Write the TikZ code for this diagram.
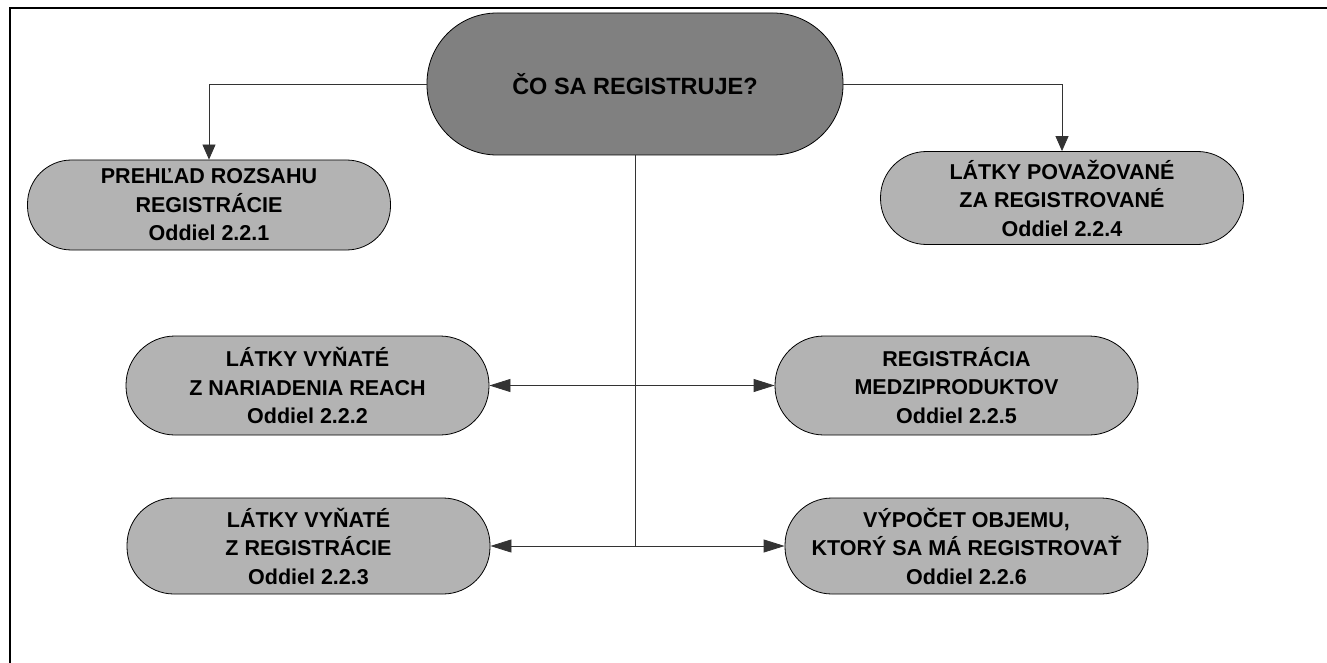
\documentclass[tikz,border=0pt]{standalone}
\usepackage{fontspec}
\setmainfont{Liberation Sans}
\usetikzlibrary{arrows.meta,positioning}

\definecolor{topgray}{HTML}{808080}
\definecolor{boxgray}{HTML}{B3B3B3}
\definecolor{linegray}{HTML}{333333}

\begin{document}
\begin{tikzpicture}[x=1pt, y=-1pt,
  box/.style={draw=black, line width=0.8pt, fill=boxgray, inner sep=0pt,
    minimum width=363pt, align=center,
    font=\fontsize{21.5}{28.5}\selectfont\bfseries},
  link/.style={draw=linegray, line width=0.8pt},
  tipv/.style={-{Triangle[length=15pt,width=13pt]}},
  tiph/.style={-{Triangle[length=21pt,width=13pt]}}]

\useasboundingbox (0,0) rectangle (1327,663);

% Frame
\draw[line width=2pt] (10,663) -- (10,8.5) -- (1327,8.5);

% Top node
\node[box, fill=topgray, minimum width=416pt, minimum height=142pt,
  rounded corners=70pt, font=\fontsize{23.5}{28}\selectfont\bfseries]
  (top) at (635,84) {ČO SA REGISTRUJE?};

% Upper row
\node[box, minimum height=90pt, rounded corners=44pt] (scope) at (209,205)
  {PREHĽAD ROZSAHU\\REGISTRÁCIE\\Oddiel 2.2.1};
\node[box, minimum height=93pt, rounded corners=46pt] (deemed) at (1062,198)
  {LÁTKY POVAŽOVANÉ\\ZA REGISTROVANÉ\\Oddiel 2.2.4};

% Middle row
\node[box, minimum height=99pt, rounded corners=49pt] (exreach) at (307.5,385.5)
  {LÁTKY VYŇATÉ\\Z NARIADENIA REACH\\Oddiel 2.2.2};
\node[box, minimum height=99pt, rounded corners=49pt] (interm) at (956.5,385.5)
  {REGISTRÁCIA\\MEDZIPRODUKTOV\\Oddiel 2.2.5};

% Lower row
\node[box, minimum height=96pt, rounded corners=47pt] (exreg) at (308.5,546)
  {LÁTKY VYŇATÉ\\Z REGISTRÁCIE\\Oddiel 2.2.3};
\node[box, minimum height=96pt, rounded corners=47pt] (volume) at (966.5,546)
  {VÝPOČET OBJEMU,\\KTORÝ SA MÁ REGISTROVAŤ\\Oddiel 2.2.6};

% Junctions on the spine
\coordinate (jmid) at (top.south |- exreach);
\coordinate (jlow) at (top.south |- exreg);

% Side branches
\draw[link, tipv] (top.west) -| (scope);
\draw[link, tipv] (top.east) -| (deemed);

% Spine and branches
\draw[link] (top.south) -- (jlow);
\draw[link, tiph] (jmid) -- (exreach);
\draw[link, tiph] (jmid) -- (interm);
\draw[link, tiph] (jlow) -- (exreg);
\draw[link, tiph] (jlow) -- (volume);

\end{tikzpicture}
\end{document}
